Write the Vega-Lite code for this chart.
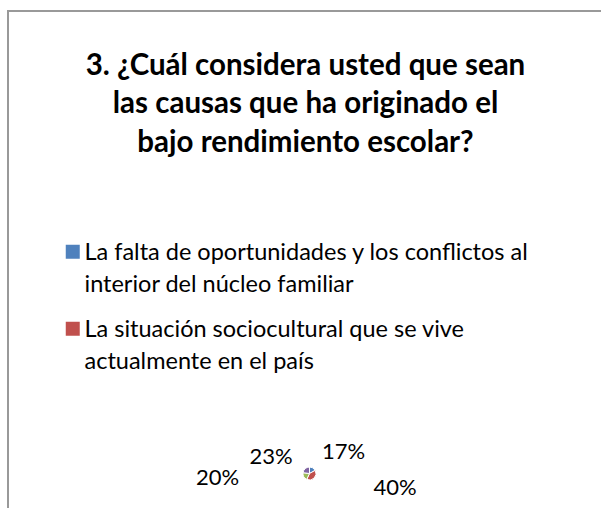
{
  "$schema": "https://vega.github.io/schema/vega-lite/v6.json",
  "width": 595,
  "height": 499,
  "autosize": {"type": "none"},
  "padding": {"left": 8, "top": 11, "right": -2, "bottom": -2},
  "background": "white",
  "view": {"stroke": "#999999", "strokeWidth": 2, "fill": "white"},
  "config": {
    "view": {"stroke": "#999999", "strokeWidth": 2},
    "font": "Lato",
    "style": {
      "guide-label": {"lineHeight": 32.5, "dy": -11}
    }
  },
  "title": {
    "text": ["3. ¿Cuál considera usted que sean", "las causas que ha originado  el", "bajo rendimiento escolar?"],
    "font": "Lato", "fontSize": 29.5, "fontWeight": "bold", "color": "black",
    "lineHeight": 38.5, "baseline": "top",
    "anchor": "middle", "frame": "group", "offset": -147
  },
  "data": {"values": [
    {"causa": "La falta  de oportunidades y los conflictos al interior del núcleo familiar", "porcentaje": 0.17, "orden": 1},
    {"causa": "La situación sociocultural que se vive actualmente en el país", "porcentaje": 0.40, "orden": 2},
    {"causa": "Causa 3", "porcentaje": 0.20, "orden": 3},
    {"causa": "Causa 4", "porcentaje": 0.23, "orden": 4}
  ]},
  "encoding": {
    "theta": {"field": "porcentaje", "type": "quantitative", "stack": true},
    "order": {"field": "orden", "type": "quantitative"},
    "color": {
      "field": "causa", "type": "nominal",
      "scale": {
        "domain": ["La falta  de oportunidades y los conflictos al interior del núcleo familiar", "La situación sociocultural que se vive actualmente en el país", "Causa 3", "Causa 4"],
        "range": ["#4F81BD", "#C0504D", "#9BBB59", "#8064A2"]
      },
      "legend": {
        "orient": "none", "legendX": 53, "legendY": 229, "padding": 0,
        "values": ["La falta  de oportunidades y los conflictos al interior del núcleo familiar", "La situación sociocultural que se vive actualmente en el país"],
        "title": null, "symbolType": "square", "symbolSize": 196, "symbolStrokeWidth": 0,
        "labelFont": "Lato", "labelFontSize": 23.5, "labelColor": "black", "labelLimit": 600,
        "labelOffset": 0, "rowPadding": 20, "labelBaseline": "top",
        "labelExpr": "indexof(datum.value, 'La falta') == 0 ? ['La falta  de oportunidades y los conflictos al', 'interior del núcleo familiar'] : indexof(datum.value, 'La situación') == 0 ? ['La situación sociocultural que se vive', 'actualmente en el país'] : datum.value"
      }
    }
  },
  "layer": [
    {"mark": {"type": "arc", "outerRadius": 6.5, "stroke": "white", "strokeWidth": 1, "x": 301.5, "y": 462.5}},
    {"mark": {"type": "text", "x": 301.5, "y": 462.5, "fontSize": 22, "font": "Lato", "color": "black", "align": "center", "baseline": "middle",
      "dx": {"expr": "datum.orden == 1 ? 34 : datum.orden == 2 ? 85.5 : datum.orden == 3 ? -92 : -38.5"},
      "dy": {"expr": "datum.orden == 1 ? -21.5 : datum.orden == 2 ? 14.5 : datum.orden == 3 ? 4.5 : -16.5"}},
     "encoding": {"text": {"field": "porcentaje", "type": "quantitative", "format": ".0%"}, "color": {"value": "black"}}}
  ]
}
